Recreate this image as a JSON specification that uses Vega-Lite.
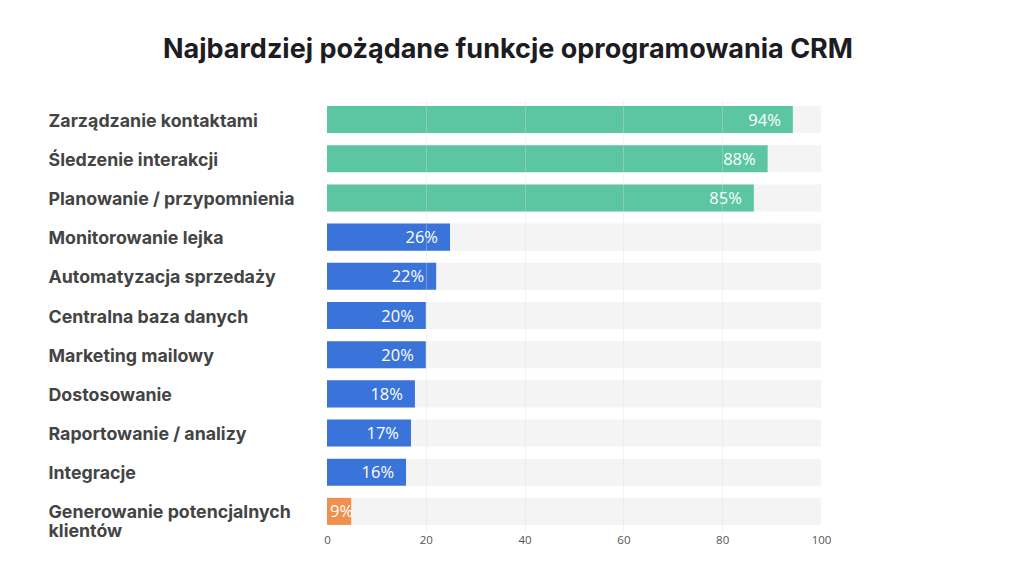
{
  "$schema": "https://vega.github.io/schema/vega-lite/v6.json",
  "autosize": {"type": "none"},
  "width": 494,
  "height": 431,
  "padding": {"left": 327, "top": 100, "right": 193, "bottom": 44},
  "background": "#ffffff",
  "config": {"view": {"stroke": null}},
  "title": {
    "text": "Najbardziej pożądane funkcje oprogramowania CRM",
    "font": "Inter",
    "fontSize": 27,
    "fontWeight": 700,
    "color": "#1c1c22",
    "anchor": "middle",
    "dx": -66,
    "offset": 36
  },
  "data": {
    "values": [
      {"feature": "Zarządzanie kontaktami", "value": 94.3, "label": "94%", "group": "top"},
      {"feature": "Śledzenie interakcji", "value": 89.2, "label": "88%", "group": "top"},
      {"feature": "Planowanie / przypomnienia", "value": 86.4, "label": "85%", "group": "top"},
      {"feature": "Monitorowanie lejka", "value": 24.9, "label": "26%", "group": "mid"},
      {"feature": "Automatyzacja sprzedaży", "value": 22.1, "label": "22%", "group": "mid"},
      {"feature": "Centralna baza danych", "value": 20, "label": "20%", "group": "mid"},
      {"feature": "Marketing mailowy", "value": 20, "label": "20%", "group": "mid"},
      {"feature": "Dostosowanie", "value": 17.8, "label": "18%", "group": "mid"},
      {"feature": "Raportowanie / analizy", "value": 17, "label": "17%", "group": "mid"},
      {"feature": "Integracje", "value": 16, "label": "16%", "group": "mid"},
      {"feature": "Generowanie potencjalnych klientów", "value": 4.9, "label": "9%", "group": "low"}
    ]
  },
  "encoding": {
    "y": {
      "field": "feature",
      "type": "nominal",
      "sort": null,
      "scale": {"paddingInner": 0.31, "paddingOuter": 0.155},
      "axis": {
        "title": null,
        "domain": false,
        "ticks": false,
        "grid": false,
        "labelAlign": "left",
        "labelPadding": 279,
        "labelOffset": 2,
        "labelFont": "Inter",
        "labelFontSize": 17.8,
        "labelFontWeight": 700,
        "labelColor": "#444444",
        "labelLimit": 300,
        "labelLineHeight": 19,
        "labelExpr": "datum.label == 'Generowanie potencjalnych klientów' ? ['Generowanie potencjalnych', 'klientów'] : datum.label"
      }
    }
  },
  "layer": [
    {
      "mark": {"type": "bar", "color": "#f4f4f4", "cornerRadius": 0},
      "encoding": {
        "x": {"datum": 100, "type": "quantitative"},
        "x2": {"datum": 0}
      }
    },
    {
      "mark": {"type": "bar", "cornerRadius": 0},
      "encoding": {
        "x": {
          "field": "value",
          "type": "quantitative",
          "scale": {"domain": [0, 100], "nice": false},
          "axis": {
            "title": null,
            "values": [0, 20, 40, 60, 80, 100],
            "domain": false,
            "ticks": false,
            "grid": true,
            "gridColor": "#dddddd",
            "gridOpacity": {"condition": {"test": "datum.value == 0 || datum.value == 100", "value": 0}, "value": 0.35},
            "zindex": 1,
            "labelFlush": false,
            "labelFont": "Open Sans",
            "labelFontSize": 11.5,
            "labelColor": "#555555",
            "labelPadding": 3
          }
        },
        "color": {
          "field": "group",
          "type": "nominal",
          "scale": {"domain": ["top", "mid", "low"], "range": ["#5cc6a3", "#3a74db", "#f0904f"]},
          "legend": null
        }
      }
    },
    {
      "transform": [{"filter": "datum.group != 'low'"}],
      "mark": {"type": "text", "align": "right", "baseline": "middle", "dx": -12, "dy": 1, "color": "#ffffff", "font": "Open Sans", "fontSize": 16.5},
      "encoding": {
        "x": {"field": "value", "type": "quantitative"},
        "text": {"field": "label"}
      }
    },
    {
      "transform": [{"filter": "datum.group == 'low'"}],
      "mark": {"type": "text", "align": "left", "baseline": "middle", "dx": 3, "dy": 1, "color": "#ffffff", "font": "Open Sans", "fontSize": 16.5},
      "encoding": {
        "x": {"datum": 0, "type": "quantitative"},
        "text": {"field": "label"}
      }
    }
  ]
}
